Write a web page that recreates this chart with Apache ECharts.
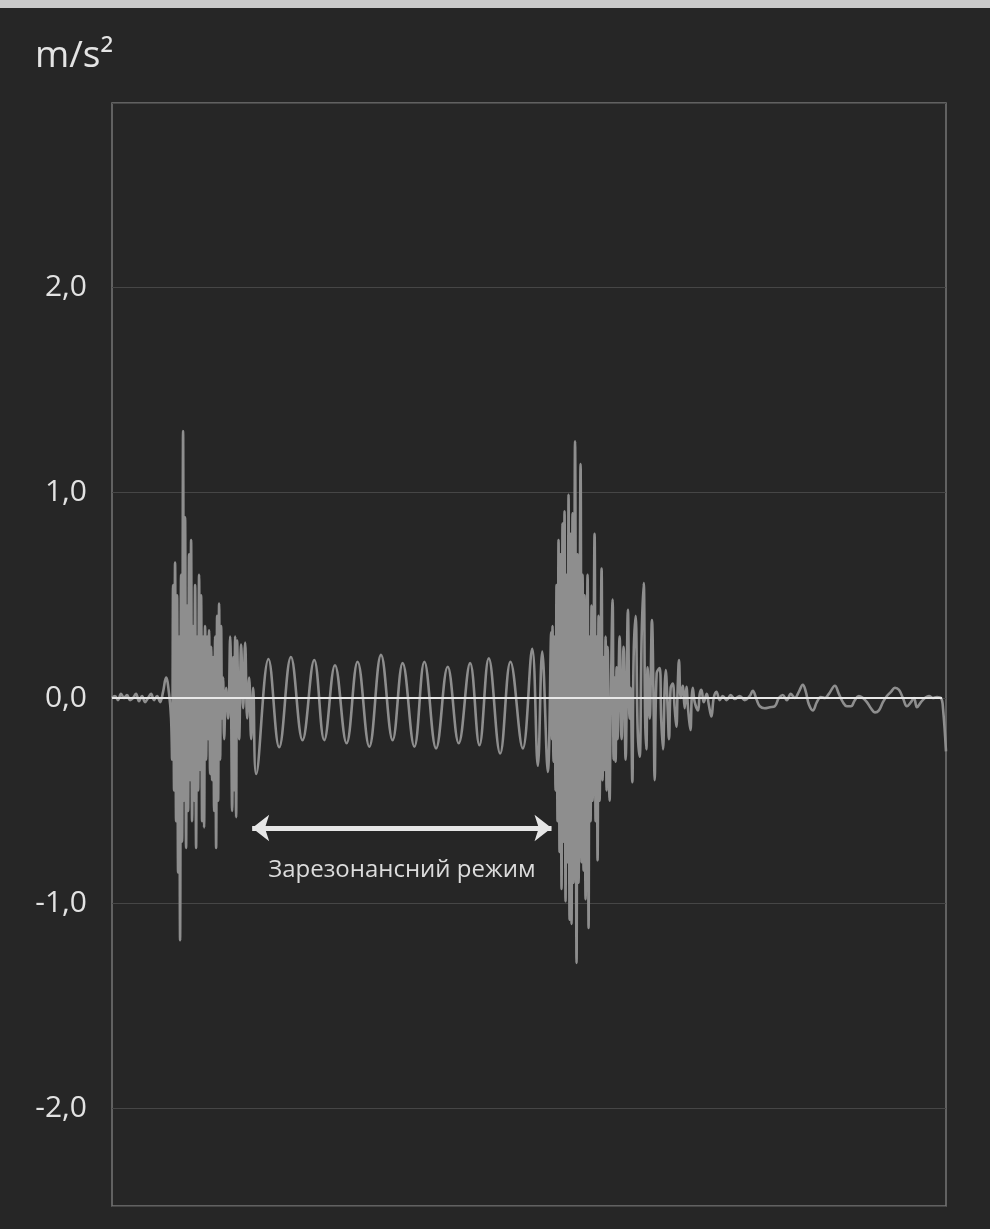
<!DOCTYPE html>
<html>
<head>
<meta charset="utf-8">
<script src="https://cdn.jsdelivr.net/npm/echarts@6/dist/echarts.min.js"></script>
<style>
  html, body { margin: 0; padding: 0; background: #262626; }
  #main { width: 990px; height: 1229px; }
  #edge { position: absolute; left: 0; top: 0; width: 990px; height: 8px; background: #c9c9c9; z-index: 2; }
</style>
</head>
<body>
<div id="edge"></div>
<div id="main"></div>
<script>
// сигнал по ділянках: [час, прискорення м/с²]
var noiseStart = [
    [0, 0.0], [3, 0.01], [6, -0.01], [9, 0.02], [12, 0.0], [15, 0.015], [18, -0.01], [21, 0.0],
    [24, 0.02], [27, -0.015], [30, 0.01], [33, -0.02], [36, 0.0], [39, 0.02], [42, -0.01],
    [45, 0.01], [48, -0.02], [51, 0.03], [54, 0.1], [57, 0.02], [59, -0.1]
];
var burst1 = [
    [60, -0.3], [61, 0.55], [62, -0.45], [63, 0.66], [64, -0.6], [65, 0.5], [66, -0.85], [67, 0.3],
    [68, -1.18], [69, 0.6], [70, -0.7], [71, 1.3], [72, -0.5], [73, 0.88], [74, -0.73], [75, 0.45],
    [76, -0.55], [77, 0.7], [78, -0.4], [79, 0.77], [80, -0.6], [81, 0.35], [82, -0.5], [83, 0.55],
    [84, -0.73], [85, 0.3], [86, -0.45], [87, 0.6], [88, -0.35], [89, 0.5], [90, -0.6], [91, 0.3],
    [92, -0.63], [93, 0.35], [94, -0.3], [95, 0.3], [96, -0.2], [97, 0.33], [98, -0.37], [99, 0.25],
    [100, -0.4], [101, 0.2], [102, -0.55], [103, 0.3], [104, -0.73], [105, 0.4], [106, -0.5], [107, 0.46],
    [108, -0.3], [109, 0.35], [110, -0.1], [111, 0.1], [112, -0.2], [114, 0.05], [116, -0.1], [118, 0.3],
    [120, -0.55], [121, 0.2], [122, -0.45], [123, 0.3], [124, -0.58], [125, 0.28], [127, -0.2], [129, 0.26],
    [131, -0.05], [133, 0.27], [135, -0.1], [137, 0.1], [139, -0.2], [141, 0.05], [144, -0.37]
];
var resonance = [
    [156.3, 0.19], [167, -0.24], [178.7, 0.2], [190.3, -0.205], [202, 0.185], [212, -0.205],
    [222.7, 0.16], [234.3, -0.22], [245.3, 0.177], [257, -0.237], [268.7, 0.21], [280.3, -0.205],
    [290.3, 0.17], [302, -0.237], [312, 0.177], [323.7, -0.245], [335.3, 0.152], [346.3, -0.22],
    [357.7, 0.17], [367, -0.23], [376.3, 0.193], [387.7, -0.27], [398, 0.177], [410.3, -0.245],
    [419.7, 0.24], [425.3, -0.33], [429.7, 0.226], [435.3, -0.36], [438.7, 0.32]
];
var burst2 = [
    [439.5, -0.2], [440, 0.35], [441, -0.31], [442, 0.3], [443, -0.45], [444, 0.55], [445, -0.6],
    [446, 0.77], [447, -0.75], [448, 0.7], [449, -0.93], [450, 0.85], [451, -0.7], [452, 0.91],
    [453, -0.99], [454, 0.6], [455, -0.8], [456, 0.99], [457, -1.08], [458, 0.8], [459, -1.1],
    [460, 0.9], [461, -0.9], [462.5, 1.25], [464, -1.29], [465, 0.7], [466, -0.9], [468, 1.14],
    [469, -0.8], [470, 0.6], [471, -0.84], [472, 0.5], [473, -0.98], [475, 0.6], [476, -1.12],
    [477, 0.3], [478, -0.6], [479, 0.45], [480, -0.5], [482, 0.8], [483, -0.6], [484, 0.3],
    [485, -0.79], [486, 0.4], [487, -0.5], [489, 0.63], [490, -0.4], [491, 0.2], [492, -0.35],
    [493, 0.3], [494, -0.45], [495, 0.25], [497, -0.5], [498, -0.1], [500, 0.48], [501, -0.3],
    [502, 0.1], [503, -0.31], [504, 0.15], [505, -0.2], [507, 0.3], [509, -0.2], [511, 0.25],
    [513, -0.3], [515.3, 0.43], [517, -0.1], [518, 0.05], [519.7, -0.41], [521, 0.2], [523, 0.4],
    [525, -0.15], [527, -0.286], [529, 0.3], [531, 0.56], [532.5, -0.1], [533.7, -0.25], [535, 0.15],
    [537, -0.1], [539.3, 0.38], [541, -0.05], [542, -0.4], [544, 0.12], [547, 0.146], [548.5, -0.1],
    [550.3, -0.25], [552, 0.05], [553, 0.136], [555, -0.05], [556.3, -0.2], [558, 0.05], [560, 0.07],
    [562, -0.05], [563.7, -0.14], [565, 0.05], [566.3, 0.185], [568, 0.0], [570, 0.06], [572, -0.05],
    [573.7, 0.055], [575.5, -0.06], [577.7, -0.156], [579, 0.0], [580, 0.05], [582, -0.02],
    [585.3, -0.06], [587, 0.02], [588.7, 0.04], [591, -0.02], [594, 0.02], [596, -0.03],
    [598.7, -0.09], [601, 0.0], [603.7, 0.03], [607, -0.01]
];
var tail = [
    [610, 0.01], [614, -0.01], [618, 0.015], [622, -0.005], [627, 0.01], [632, -0.01], [637, 0.01],
    [640, 0.035], [644, -0.01], [647, -0.04], [652, -0.05], [657, -0.045], [662, -0.04], [666, 0.0],
    [670, 0.015], [674, -0.01], [678, 0.02], [682, 0.0], [686, 0.03], [690, 0.065], [693, 0.03],
    [696, -0.03], [700, -0.06], [704, -0.02], [708, 0.005], [712, 0.0], [716, 0.02], [722, 0.06],
    [726, 0.02], [730, -0.02], [734, -0.04], [738, -0.04], [742, -0.01], [746, 0.01], [750, 0.0],
    [754, -0.02], [758, -0.05], [762, -0.07], [766, -0.06], [770, -0.02], [774, 0.01], [778, 0.03],
    [782, 0.05], [786, 0.04], [790, 0.0], [794, -0.04], [798, -0.02], [801, 0.0], [804, -0.045],
    [808, -0.02], [812, 0.0], [816, 0.01], [820, 0.0], [824, 0.005], [828, 0.0], [830, -0.05], [833, -0.26]
];

var tMax = 833;
var yMin = -2.474, yMax = 2.898;
var arrowFrom = 140, arrowTo = 439, arrowLevel = -0.633;
var unitName = 'm/s²';
var modeLabel = 'Зарезонансний режим';

var signal = noiseStart.concat(burst1, resonance, burst2, tail);

var myChart = echarts.init(document.getElementById('main'));

var option = {
    backgroundColor: '#262626',
    animation: false,
    title: {
        text: unitName,
        left: 30,
        top: 33,
        textStyle: {
            color: '#e4e4e4',
            fontSize: 37,
            fontWeight: 'normal',
            fontFamily: 'Open Sans'
        }
    },
    grid: {
        left: 112,
        right: 44,
        top: 103,
        bottom: 23,
        show: true,
        borderColor: '#767676',
        borderWidth: 1.5
    },
    xAxis: {
        type: 'value',
        min: 0,
        max: tMax,
        show: false
    },
    yAxis: {
        type: 'value',
        min: yMin,
        max: yMax,
        splitNumber: 5,
        axisLine: {show: false},
        axisTick: {show: false},
        axisLabel: {
            color: '#e2e2e2',
            fontSize: 30,
            fontFamily: 'Open Sans',
            margin: 25,
            showMinLabel: false,
            showMaxLabel: false,
            formatter: function (v) {
                return v.toFixed(1).replace('.', ',');
            }
        },
        splitLine: {
            lineStyle: {color: '#464646', width: 1}
        }
    },
    series: [
        {
            name: 'a',
            type: 'line',
            data: signal,
            showSymbol: false,
            smooth: 0.4,
            lineStyle: {color: '#8e8e8e', width: 2.6},
            markLine: {
                silent: true,
                animation: false,
                data: [
                    [
                        {coord: [0, 0], symbol: 'none', lineStyle: {color: '#e8e8e8', width: 2, type: 'solid'}, label: {show: false}},
                        {coord: [tMax - 4, 0], symbol: 'none'}
                    ],
                    [
                        {
                            coord: [arrowFrom, arrowLevel],
                            symbol: 'arrow',
                            symbolSize: [20, 17],
                            lineStyle: {color: '#e6e6e6', width: 5, type: 'solid'},
                            label: {
                                show: true,
                                formatter: modeLabel,
                                position: 'insideMiddleBottom',
                                distance: 30,
                                color: '#dcdcdc',
                                fontSize: 24,
                                fontFamily: 'Open Sans'
                            }
                        },
                        {coord: [arrowTo, arrowLevel], symbol: 'arrow', symbolSize: [20, 17]}
                    ]
                ]
            }
        }
    ]
};

myChart.setOption(option);
</script>
</body>
</html>
